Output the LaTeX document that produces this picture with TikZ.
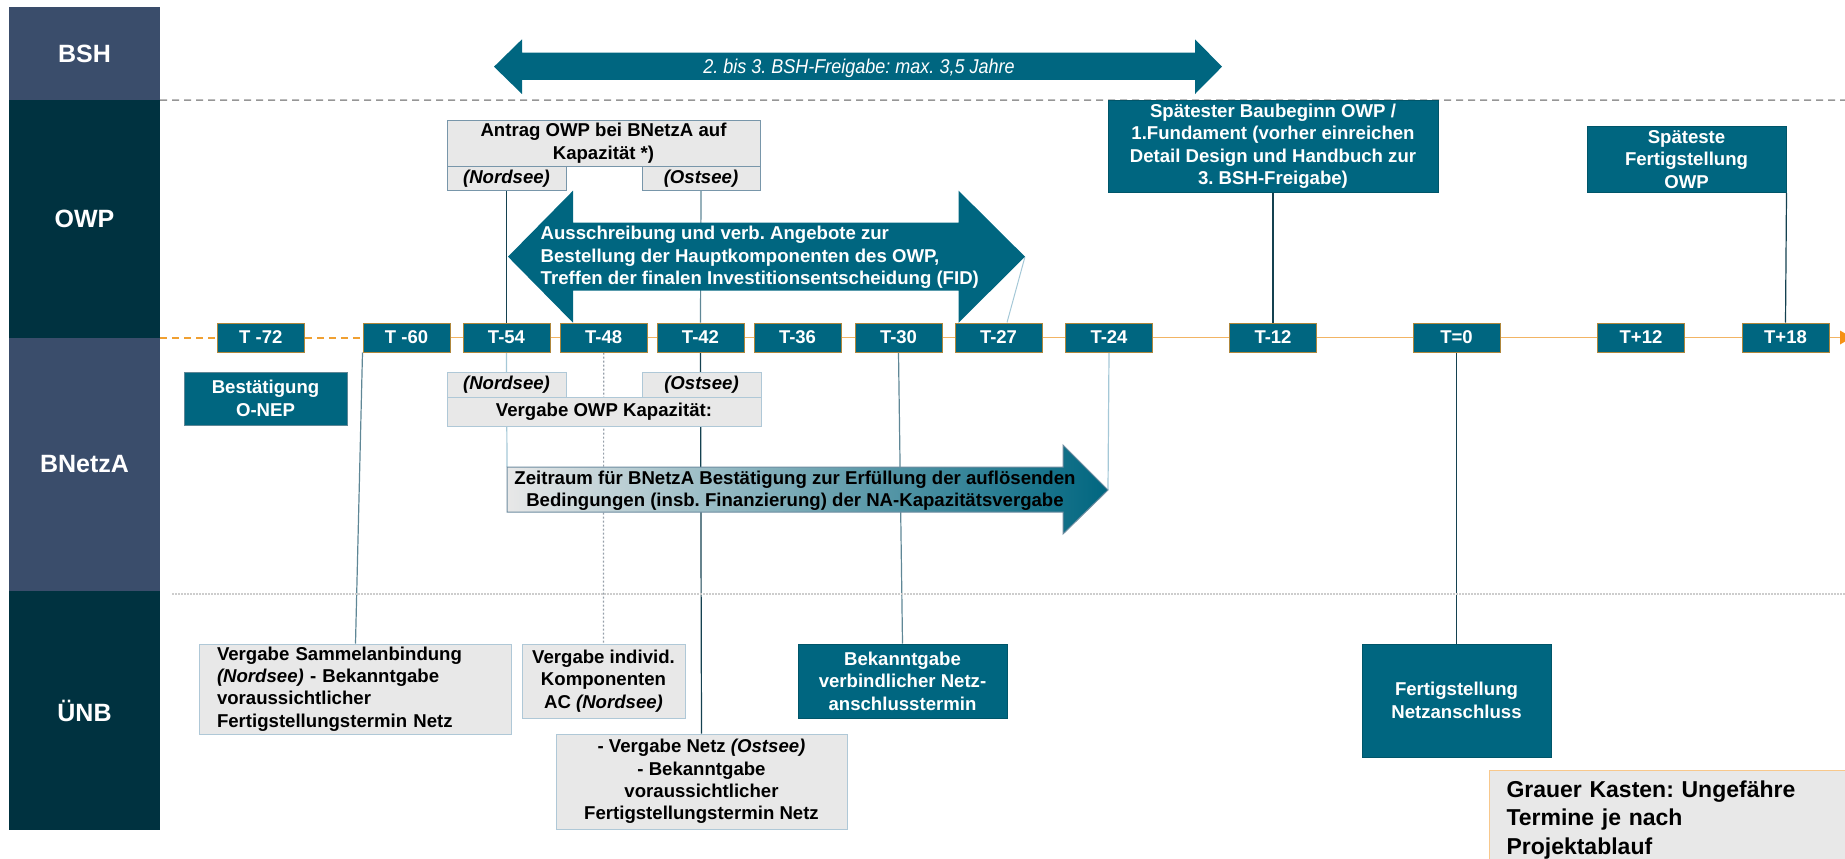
\documentclass[tikz,border=0pt]{standalone}
\usepackage{fontspec}
\setmainfont{Liberation Sans}
\newfontfamily\bshfont[FakeStretch=0.9]{Liberation Sans}
\usetikzlibrary{calc,backgrounds}
\definecolor{slateC}{RGB}{58,77,107}
\definecolor{darkC}{RGB}{0,50,64}
\definecolor{tealC}{RGB}{0,102,128}
\definecolor{tealD}{RGB}{0,85,105}
\definecolor{tgold}{RGB}{175,135,60}
\definecolor{grayF}{RGB}{232,232,232}
\definecolor{grayB}{RGB}{175,200,215}
\definecolor{anB}{RGB}{120,150,170}
\definecolor{zrB}{RGB}{110,140,160}
\definecolor{lnDark}{RGB}{20,65,80}
\definecolor{lnMid}{RGB}{95,135,150}
\definecolor{lnLight}{RGB}{165,200,215}
\definecolor{lnGray}{RGB}{150,160,170}
\definecolor{orS}{RGB}{242,180,100}
\definecolor{orD}{RGB}{240,160,50}
\definecolor{orA}{RGB}{245,145,20}
\definecolor{sepG}{RGB}{150,150,150}
\definecolor{dotG}{RGB}{205,205,205}
\definecolor{orL}{RGB}{248,200,140}
\newcommand\fA{\fontsize{18.6}{22.4}\selectfont\bfseries}
\AtBeginDocument{\frenchspacing}
\tikzset{
  colbox/.style={minimum width=151pt, inner sep=0pt, text=white, font=\fontsize{25}{30}\selectfont\bfseries},
  tbox/.style={fill=tealC, draw=tgold, line width=1pt, minimum width=87pt, minimum height=29pt, inner sep=0pt, text=white, font=\fontsize{18.5}{22}\selectfont\bfseries},
  gbox/.style={fill=grayF, draw=grayB, line width=1pt, inner sep=0pt, align=center, text=black, font=\fA},
  tealbox/.style={fill=tealC, draw=tealD, line width=1pt, inner sep=0pt, align=center, text=white, font=\fA},
  conn/.style={line width=1.2pt},
}
\begin{document}
\frenchspacing
\begin{tikzpicture}[x=1pt,y=-1pt]
\useasboundingbox (0,0) rectangle (1845,859);
% row headers
\node[colbox, fill=slateC, minimum height=93pt] (cBSH) at (84.5,53.5) {BSH};
\node[colbox, fill=darkC, minimum height=238pt] (cOWP) at (84.5,219) {OWP};
\node[colbox, fill=slateC, minimum height=253pt] (cBN) at (84.5,464.5) {BNetzA};
\node[colbox, fill=darkC, minimum height=239pt] (cUNB) at (84.5,710.5) {ÜNB};
% separators
\coordinate (sepA) at (1845,100);
\draw[sepG, line width=1.5pt, dash pattern=on 7pt off 5pt] (cBSH.south east) -- (sepA);
\coordinate (sepB0) at (172,594);
\coordinate (sepB1) at (1845,594);
\draw[dotG, line width=1.5pt, dash pattern=on 1.5pt off 1.5pt] (sepB0) -- (sepB1);
% T boxes
\foreach \n/\x/\t in {t72/260.75/{T -72}, t60/406.5/{T -60}, t54/506.5/{T-54}, t48/603.7/{T-48},
  t42/700.5/{T-42}, t36/797.5/{T-36}, t30/898.5/{T-30}, t27/998.5/{T-27}, t24/1109/{T-24},
  t12/1273/{T-12}, t0/1456.5/{T=0}, tp12/1641/{T+12}, t18/1785.5/{T+18}}
  \node[tbox] (\n) at (\x,337.5) {\t};
% BSH arrow
\fill[tealC] (494,66.7) -- (522,39.3) -- (522,52.7) -- (1195,52.7) -- (1195,39.3) -- (1222,66.7)
  -- (1195,94) -- (1195,80) -- (522,80) -- (522,94) -- cycle;
\node[text=white, inner sep=0pt, font=\bshfont\itshape\fontsize{20}{24}\selectfont] (bshtxt) at (859,68.5) {2. bis 3. BSH-Freigabe: max. 3,5 Jahre};
% OWP row
\node[gbox, draw=anB, minimum width=313pt, minimum height=45.3pt] (an) at (603.5,143.35) {Antrag OWP bei BNetzA auf\\Kapazität *)};
\node[gbox, draw=anB, minimum width=119pt, minimum height=24.7pt] (ano) at (506.5,178.35) {\textit{(Nordsee)}};
\node[gbox, draw=anB, minimum width=118pt, minimum height=24.7pt] (aos) at (701,178.35) {\textit{(Ostsee)}};
\fill[tealC] (508,256.7) -- (573,190.7) -- (573,222.7) -- (958.6,222.7) -- (958.6,190.7) -- (1025,256.7)
  -- (958.6,322.7) -- (958.6,290.7) -- (573,290.7) -- (573,322.7) -- cycle;
\coordinate (owpTip) at (1025,256.7);
\node[anchor=west, align=left, inner sep=0pt, text=white, font=\fA] (owptxt) at (540.5,257.5)
  {Ausschreibung und verb. Angebote zur\\Bestellung der Hauptkomponenten des OWP,\\Treffen der finalen Investitionsentscheidung (FID)};
\node[tealbox, minimum width=330pt, minimum height=92.7pt] (sp) at (1273,146.35)
  {Spätester Baubeginn OWP /\\1.Fundament (vorher einreichen\\Detail Design und Handbuch zur\\3. BSH-Freigabe)};
\node[tealbox, minimum width=199pt, minimum height=66.7pt] (sf) at (1686.5,159.35)
  {Späteste\\Fertigstellung\\OWP};
% BNetzA row
\node[tealbox, draw=lnMid, minimum width=163pt, minimum height=53pt] (bo) at (265.5,398.5) {Bestätigung\\O-NEP};
\node[gbox, minimum width=119pt, minimum height=25pt] (bno) at (506.5,384.5) {\textit{(Nordsee)}};
\node[gbox, minimum width=119pt, minimum height=25pt] (bos) at (701.5,384.5) {\textit{(Ostsee)}};
\node[gbox, minimum width=314pt, minimum height=29pt] (bv) at (604,411.5) {Vergabe OWP Kapazität:};
\shadedraw[left color=grayF, right color=tealC, draw=zrB, line width=1pt]
  (507,467) -- (1063,467) -- (1063,445) -- (1108,490) -- (1063,534) -- (1063,512) -- (507,512) -- cycle;
\coordinate (zrNW) at (507,467);
\coordinate (zrTip) at (1108,490);
\node[align=center, inner sep=0pt, text=black, font=\fA] (zrtxt) at (795,491)
  {Zeitraum für BNetzA Bestätigung zur Erfüllung der auflösenden\\Bedingungen (insb. Finanzierung) der NA-Kapazitätsvergabe};
% UeNB row
\node[gbox, align=left, text width=277pt, inner xsep=17.5pt, inner ysep=0pt, minimum height=90pt] (vs) at (355.5,689)
  {Vergabe Sammelanbindung\\\textit{(Nordsee)} - Bekanntgabe\\voraussichtlicher\\Fertigstellungstermin Netz};
\node[gbox, minimum width=163pt, minimum height=74pt] (vi) at (603.5,681) {Vergabe individ.\\Komponenten\\AC \textit{(Nordsee)}};
\node[gbox, minimum width=291pt, minimum height=95pt] (vn) at (701.5,781.5)
  {- Vergabe Netz \textit{(Ostsee)}\\- Bekanntgabe\\voraussichtlicher\\Fertigstellungstermin Netz};
\node[tealbox, minimum width=209pt, minimum height=74pt] (bk) at (902.5,681) {Bekanntgabe\\verbindlicher Netz-\\anschlusstermin};
\node[tealbox, minimum width=189pt, minimum height=113pt] (fn) at (1456.5,700.5) {Fertigstellung\\Netzanschluss};
\node[fill=grayF, draw=orL, line width=1pt, anchor=north west, align=left, text width=337pt, inner xsep=17pt, inner ysep=10pt,
  font=\fontsize{23}{28.5}\selectfont\bfseries] (gk) at (1489,770)
  {Grauer Kasten: Ungefähre\\Termine je nach\\Projektablauf};
% connectors and timeline behind
\begin{scope}[on background layer]
\coordinate (tlS) at (160,337.5);
\coordinate (tlE) at (1840,337.5);
\draw[orD, line width=2pt, dash pattern=on 7pt off 5pt] (tlS) -- (t72.west);
\draw[orD, line width=2pt, dash pattern=on 7pt off 5pt] (t72.east) -- (t60.west);
\draw[orS, line width=1.5pt] (t60.east) -- (tlE);
\fill[orA] (tlE) -- ++(0,-7) -- ++(12,7) -- ++(-12,7) -- cycle;
\draw[conn, lnDark] (ano.south) -- (t54.north);
\draw[conn, lnLight] (t54.south) -- (zrNW);
\draw[conn, lnMid] (aos.south) -- (t42.north);
\draw[conn, lnDark] (t42.south) -- (vn.north);
\draw[lnGray, line width=1.2pt, dash pattern=on 2pt off 2pt] (t48.south) -- (vi.north);
\draw[conn, lnMid] (t60.south west) -- (vs.north);
\draw[conn, lnMid] (t30.south) -- (bk.north);
\draw[conn, lnLight] (t24.south) -- (zrTip);
\draw[line width=1pt, lnLight] (owpTip) -- ($(t27.north)+(8.5,0)$);
\draw[conn, lnDark] (sp.south) -- (t12.north);
\draw[conn, lnDark] (sf.south east) -- (t18.north);
\draw[conn, lnDark] (t0.south) -- (fn.north);
\end{scope}
\end{tikzpicture}
\end{document}
